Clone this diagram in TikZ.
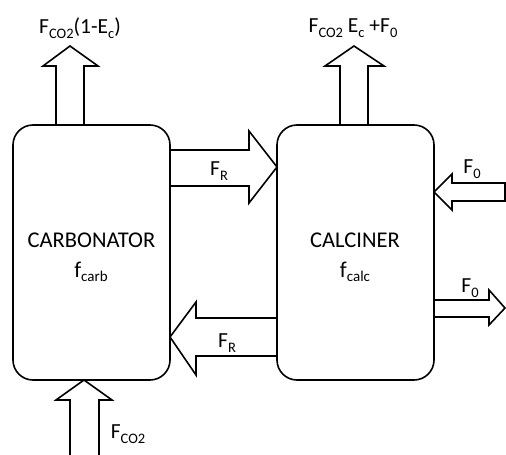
\documentclass[tikz,border=0pt]{standalone}
\usepackage{fontspec}
\setmainfont{Carlito}
\newcommand\sbs[1]{\raisebox{-4.5pt}{\fontsize{14.5}{15}\selectfont #1}}
\begin{document}
\begin{tikzpicture}[x=1pt,y=-1pt,line width=1.6pt,line join=miter,
  box/.style={draw,rounded corners=20pt,minimum width=157pt,minimum height=255pt,inner sep=0pt,outer sep=0pt},
  blk/.style={draw,line width=1.6pt},
  lbl/.style={font=\fontsize{21.5}{24}\selectfont,inner sep=0pt},
  big/.style={font=\fontsize{22.5}{26}\selectfont,inner sep=0pt}]
\useasboundingbox (0,0) rectangle (506,455);
\node[box] (carb) at (91.5,252.5) {};
\node[box] (calc) at (355.5,252.5) {};
\node[big] (carbname) at (91.5,240) {CARBONATOR};
\node[big] (carbf) at (91,272) {f\sbs{\fontsize{15}{16}\selectfont carb}};
\node[big] (calcname) at (355,240) {CALCINER};
\node[big] (calcf) at (355,272) {f\sbs{\fontsize{15}{16}\selectfont calc}};
% top outlet of carbonator
\draw[blk] (56,125) -- (56,66) -- (43,66) -- (70,46) -- (98,66) -- (84,66) -- (84,125);
\node[lbl] (lcarbout) at (80,28) {F\sbs{CO2}(1-E\sbs{c})};
% top outlet of calciner
\draw[blk] (340,125) -- (340,66) -- (325,66) -- (354,46) -- (384,66) -- (368,66) -- (368,125);
\node[lbl] (lcalcout) at (353,28) {F\sbs{CO2} E\sbs{c} +F\sbs{0}};
% F_R carbonator -> calciner
\draw[blk] (170,150) -- (249,150) -- (249,131) -- (277,167) -- (249,203) -- (249,186) -- (170,186);
\node[lbl] (lfr1) at (219,171) {F\sbs{R}};
% F_R calciner -> carbonator
\draw[blk] (277,318) -- (196,318) -- (196,302) -- (170,337) -- (196,375) -- (196,356) -- (277,356);
\node[lbl] (lfr2) at (227,343) {F\sbs{R}};
% F_0 in
\draw[blk] (505,183) -- (452,183) -- (452,174) -- (434,192) -- (452,210) -- (452,201) -- (505,201) -- cycle;
\node[lbl] (lf0in) at (472,169) {F\sbs{0}};
% F_0 out
\draw[blk] (434,300) -- (489,300) -- (489,290) -- (505,308) -- (489,325) -- (489,317) -- (434,317);
\node[lbl] (lf0out) at (470,288) {F\sbs{0}};
% F_CO2 inlet
\draw[blk] (70,455) -- (70,400) -- (56,400) -- (84,380) -- (112,400) -- (99,400) -- (99,455);
\node[lbl] (lco2in) at (128,434) {F\sbs{CO2}};
\end{tikzpicture}
\end{document}
